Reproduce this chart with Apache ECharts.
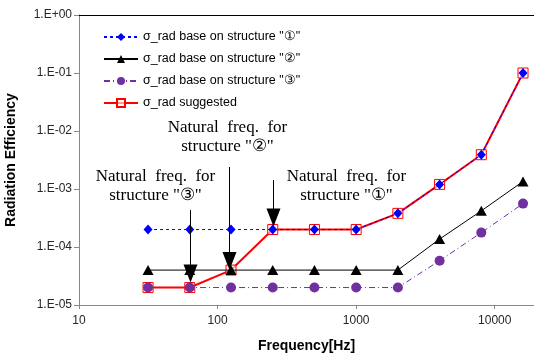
<!DOCTYPE html>
<html><head><meta charset="utf-8">
<script src="https://cdn.jsdelivr.net/npm/echarts@6/dist/echarts.min.js"></script>
<style>html,body{margin:0;padding:0;background:#fff}#c{width:534px;height:356px}</style>
</head><body><div id="c"></div>
<script>
const frequencies = [31.5, 63, 125, 250, 500, 1000, 2000, 4000, 8000, 16000];
const sigmaStruct1 = [2e-4, 2e-4, 2e-4, 2e-4, 2e-4, 2e-4, 3.8e-4, 1.2e-3, 3.9e-3, 1e-1];
const sigmaStruct2 = [4e-5, 4e-5, 4e-5, 4e-5, 4e-5, 4e-5, 4e-5, 1.37e-4, 4.2e-4, 1.35e-3];
const sigmaStruct3 = [2e-5, 2e-5, 2e-5, 2e-5, 2e-5, 2e-5, 2e-5, 5.8e-5, 1.77e-4, 5.6e-4];
const sigmaSuggested = [2e-5, 2e-5, 4e-5, 2e-4, 2e-4, 2e-4, 3.8e-4, 1.2e-3, 3.9e-3, 1e-1];
const seriesNames = ['σ_rad base on structure "①"', 'σ_rad base on structure "②"', 'σ_rad base on structure "③"', 'σ_rad suggested'];
const annotations = [
  {text: 'Natural  freq.  for\nstructure "③"', freq: 63, value: 2e-5},
  {text: 'Natural  freq.  for\nstructure "②"', freq: 125, value: 4e-5},
  {text: 'Natural  freq.  for\nstructure "①"', freq: 250, value: 2e-4}
];

function pairs(arr){ return frequencies.map((f,i)=>[f, arr[i]]); }
function yFmt(v){
  const e = Math.round(Math.log10(v));
  const a = Math.abs(e);
  return '1.E' + (e >= 0 ? '+' : '-') + (a < 10 ? '0' : '') + a;
}
function xFmt(v){ return String(Math.round(v)); }

const chart = echarts.init(document.getElementById('c'), null, {renderer:'canvas'});
const labelFont = {fontFamily: 'Liberation Sans, Arial, sans-serif', fontSize: 12, color: '#262626'};
chart.setOption({
  animation: false,
  backgroundColor: '#fff',
  grid: {left: 79, right: 0, top: 15, bottom: 51, containLabel: false, outerBoundsMode: 'none'},
  legend: {
    data: seriesNames,
    orient: 'vertical', left: 98, top: 25,
    itemWidth: 34, itemHeight: 10, itemGap: 8,
    textStyle: {fontFamily: 'Liberation Sans, Arial, sans-serif', fontSize: 12.5, color: '#000', lineHeight: 14}
  },
  xAxis: [{
    type: 'log', logBase: 10, min: 10, max: 19200,
    name: 'Frequency[Hz]', nameLocation: 'middle', nameGap: 34,
    nameTextStyle: {fontFamily: 'Liberation Sans, Arial, sans-serif', fontSize: 14, fontWeight: 'bold', color: '#000'},
    axisLine: {lineStyle: {color: '#888', width: 1}},
    axisTick: {show: true, inside: false, length: 4, lineStyle: {color: '#888'}},
    minorTick: {show: false},
    splitLine: {show: false},
    axisLabel: Object.assign({margin: 10, showMaxLabel: false, formatter: xFmt}, labelFont)
  }, {
    type: 'log', logBase: 10, min: 10, max: 19200, position: 'top',
    axisLine: {lineStyle: {color: '#000', width: 1}},
    axisTick: {show: false}, axisLabel: {show: false}, splitLine: {show: false}
  }],
  yAxis: {
    type: 'log', logBase: 10, min: 1e-5, max: 1,
    name: 'Radiation Efficiency', nameLocation: 'middle', nameGap: 61,
    nameTextStyle: {fontFamily: 'Liberation Sans, Arial, sans-serif', fontSize: 14, fontWeight: 'bold', color: '#000'},
    axisLine: {show: true, lineStyle: {color: '#888', width: 1}},
    axisTick: {show: true, inside: false, length: 5, lineStyle: {color: '#888'}},
    splitLine: {show: false},
    axisLabel: Object.assign({margin: 7, formatter: yFmt}, labelFont)
  },
  series: [
    {
      name: seriesNames[3], type: 'line', data: pairs(sigmaSuggested), z: 2,
      symbol: 'rect', symbolSize: 10,
      lineStyle: {color: '#ff0000', width: 2},
      itemStyle: {color: 'rgba(255,255,255,0.6)', borderColor: '#ff0000', borderWidth: 1}
    },
    {
      name: seriesNames[0], type: 'line', data: pairs(sigmaStruct1), z: 3,
      symbol: 'diamond', symbolSize: [9, 10],
      lineStyle: {color: '#0000ff', width: 1, type: [3, 3]},
      itemStyle: {color: '#0000ff'}
    },
    {
      name: seriesNames[1], type: 'line', data: pairs(sigmaStruct2), z: 3,
      symbol: 'triangle', symbolSize: [11, 10],
      lineStyle: {color: '#000', width: 1},
      itemStyle: {color: '#000'}
    },
    {
      name: seriesNames[2], type: 'line', data: pairs(sigmaStruct3), z: 3,
      symbol: 'circle', symbolSize: 10,
      lineStyle: {color: '#7030a0', width: 1, type: [6, 3, 1, 3]},
      itemStyle: {color: '#7030a0'}
    }
  ]
});

// annotations: arrows pointing at the data points, with text above
const arrowTop = [210, 167, 180];   // y where each arrow line starts
const tipGap = [5, 0, 3];
const textOffsetX = [-35, -2, 73];
const textTop = [167, 118, 167];
const graphics = [];
annotations.forEach((a, i) => {
  const p = chart.convertToPixel({xAxisIndex: 0, yAxisIndex: 0}, [a.freq, a.value]);
  const tipY = p[1] - tipGap[i];
  const x = Math.round(p[0]) - (i === 1 ? 2 : 0) + 0.5;
  graphics.push({type: 'line', shape: {x1: x, y1: arrowTop[i], x2: x, y2: tipY - 14}, style: {stroke: '#000', lineWidth: 1}, z: 10});
  graphics.push({type: 'polygon', shape: {points: [[x - 7, tipY - 18], [x + 7, tipY - 18], [x, tipY]]}, style: {fill: '#000'}, z: 10});
  graphics.push({type: 'text', x: x + textOffsetX[i], y: textTop[i],
    style: {text: a.text, font: '17px "Liberation Serif", "Times New Roman", serif', textAlign: 'center', fill: '#000', lineHeight: 19}, z: 10});
});
chart.setOption({graphic: graphics});
</script>
</body></html>
